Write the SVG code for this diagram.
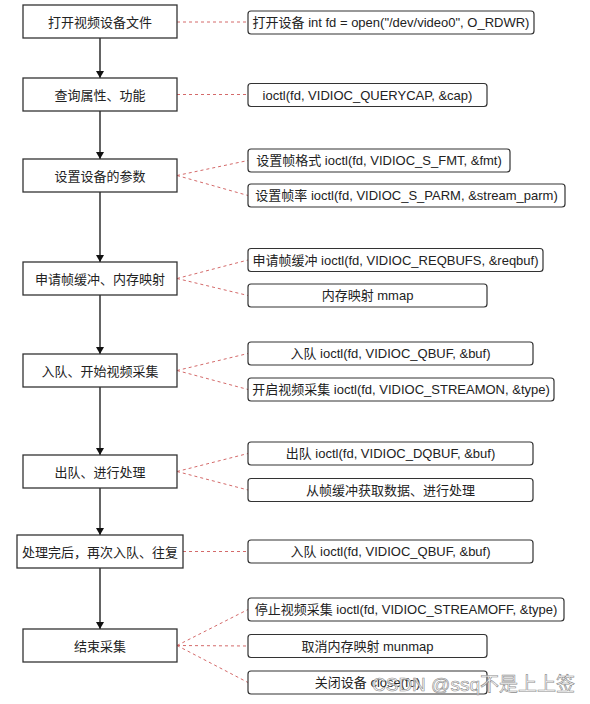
<svg xmlns="http://www.w3.org/2000/svg" width="590" height="704" viewBox="0 0 590 704">
<defs>
<style>
.step rect{fill:#fff;stroke:#333;stroke-width:1.3}
.note rect{fill:#fff;stroke:#333;stroke-width:1.2}
text{font-family:"Liberation Sans","Noto Sans CJK SC",sans-serif;font-size:13px;fill:#222;text-anchor:middle}
.flow line{stroke:#111;stroke-width:1.3}
.dash line{stroke:#d46a6a;stroke-width:1;stroke-dasharray:3 3}
.wm{font-size:19px;text-anchor:start;fill:#fff;fill-opacity:0.75;stroke:#8a8a8a;stroke-width:0.6}
</style>
<marker id="arr" viewBox="0 0 10 10" refX="10" refY="5" markerWidth="7" markerHeight="8" markerUnits="userSpaceOnUse" orient="auto" preserveAspectRatio="none">
<path d="M0,0 L10,5 L0,10 Z" fill="#111"/>
</marker>
</defs>
<rect width="590" height="704" fill="#fff"/>

<g id="connectors">
<g class="flow">
<line x1="100" y1="38" x2="100" y2="78" marker-end="url(#arr)"/>
<line x1="100" y1="111" x2="100" y2="159" marker-end="url(#arr)"/>
<line x1="100" y1="192" x2="100" y2="262" marker-end="url(#arr)"/>
<line x1="100" y1="295" x2="100" y2="354" marker-end="url(#arr)"/>
<line x1="100" y1="387" x2="100" y2="455" marker-end="url(#arr)"/>
<line x1="100" y1="488" x2="100" y2="535" marker-end="url(#arr)"/>
<line x1="100" y1="568" x2="100" y2="629" marker-end="url(#arr)"/>
</g>
<g class="dash">
<line x1="177" y1="22" x2="248" y2="22"/>
<line x1="177" y1="94.5" x2="248" y2="94.5"/>
<line x1="177" y1="175.5" x2="248" y2="160.5"/>
<line x1="177" y1="175.5" x2="248" y2="195.5"/>
<line x1="177" y1="278.5" x2="248" y2="260"/>
<line x1="177" y1="278.5" x2="248" y2="295.5"/>
<line x1="177" y1="370.5" x2="248" y2="353.5"/>
<line x1="177" y1="370.5" x2="248" y2="389.5"/>
<line x1="177" y1="471.5" x2="248" y2="453.5"/>
<line x1="177" y1="471.5" x2="248" y2="490"/>
<line x1="183" y1="551.5" x2="248" y2="551.5"/>
<line x1="177" y1="645.5" x2="248" y2="609.5"/>
<line x1="177" y1="645.5" x2="248" y2="646"/>
<line x1="177" y1="645.5" x2="248" y2="682.5"/>
</g>
</g>

<g id="s1" class="step"><rect x="23" y="5" width="154" height="33"/><text x="100" y="26.5">打开视频设备文件</text></g>
<g id="s2" class="step"><rect x="23" y="78" width="154" height="33"/><text x="100" y="99.5">查询属性、功能</text></g>
<g id="s3" class="step"><rect x="23" y="159" width="154" height="33"/><text x="100" y="180.5">设置设备的参数</text></g>
<g id="s4" class="step"><rect x="23" y="262" width="154" height="33"/><text x="100" y="283.5">申请帧缓冲、内存映射</text></g>
<g id="s5" class="step"><rect x="23" y="354" width="154" height="33"/><text x="100" y="375.5">入队、开始视频采集</text></g>
<g id="s6" class="step"><rect x="23" y="455" width="154" height="33"/><text x="100" y="476.5">出队、进行处理</text></g>
<g id="s7" class="step"><rect x="17" y="535" width="166" height="33"/><text x="100" y="556.5">处理完后，再次入队、往复</text></g>
<g id="s8" class="step"><rect x="23" y="629" width="154" height="33"/><text x="100" y="650.5">结束采集</text></g>

<g id="n1" class="note"><rect x="248" y="11" width="286" height="23" rx="3"/><text x="391" y="27">打开设备 int fd = open("/dev/video0", O_RDWR)</text></g>
<g id="n2" class="note"><rect x="248" y="83.5" width="239" height="23" rx="3"/><text x="367.5" y="99.5">ioctl(fd, VIDIOC_QUERYCAP, &amp;cap)</text></g>
<g id="n3" class="note"><rect x="248" y="149" width="262" height="23" rx="3"/><text x="379" y="165">设置帧格式 ioctl(fd, VIDIOC_S_FMT, &amp;fmt)</text></g>
<g id="n4" class="note"><rect x="248" y="184" width="317" height="23" rx="3"/><text x="406.5" y="200">设置帧率 ioctl(fd, VIDIOC_S_PARM, &amp;stream_parm)</text></g>
<g id="n5" class="note"><rect x="248" y="248.5" width="295" height="23" rx="3"/><text x="395.5" y="264.5">申请帧缓冲 ioctl(fd, VIDIOC_REQBUFS, &amp;reqbuf)</text></g>
<g id="n6" class="note"><rect x="248" y="284" width="239" height="23" rx="3"/><text x="367.5" y="300">内存映射 mmap</text></g>
<g id="n7" class="note"><rect x="248" y="342" width="285" height="23" rx="3"/><text x="390.5" y="358">入队 ioctl(fd, VIDIOC_QBUF, &amp;buf)</text></g>
<g id="n8" class="note"><rect x="248" y="378" width="306" height="23" rx="3"/><text x="401" y="394">开启视频采集 ioctl(fd, VIDIOC_STREAMON, &amp;type)</text></g>
<g id="n9" class="note"><rect x="248" y="442" width="285" height="23" rx="3"/><text x="390.5" y="458">出队 ioctl(fd, VIDIOC_DQBUF, &amp;buf)</text></g>
<g id="n10" class="note"><rect x="248" y="478.5" width="285" height="23" rx="3"/><text x="390.5" y="494.5">从帧缓冲获取数据、进行处理</text></g>
<g id="n11" class="note"><rect x="248" y="540" width="285" height="23" rx="3"/><text x="390.5" y="556">入队 ioctl(fd, VIDIOC_QBUF, &amp;buf)</text></g>
<g id="n12" class="note"><rect x="248" y="598" width="316" height="23" rx="3"/><text x="406" y="614">停止视频采集 ioctl(fd, VIDIOC_STREAMOFF, &amp;type)</text></g>
<g id="n13" class="note"><rect x="248" y="634.5" width="239" height="23" rx="3"/><text x="367.5" y="650.5">取消内存映射 munmap</text></g>
<g id="n14" class="note"><rect x="248" y="671" width="239" height="23" rx="3"/><text x="367.5" y="687">关闭设备 close(fd)</text></g>

<text class="wm" x="372" y="691">CSDN @ssq不是上上签</text>
</svg>
